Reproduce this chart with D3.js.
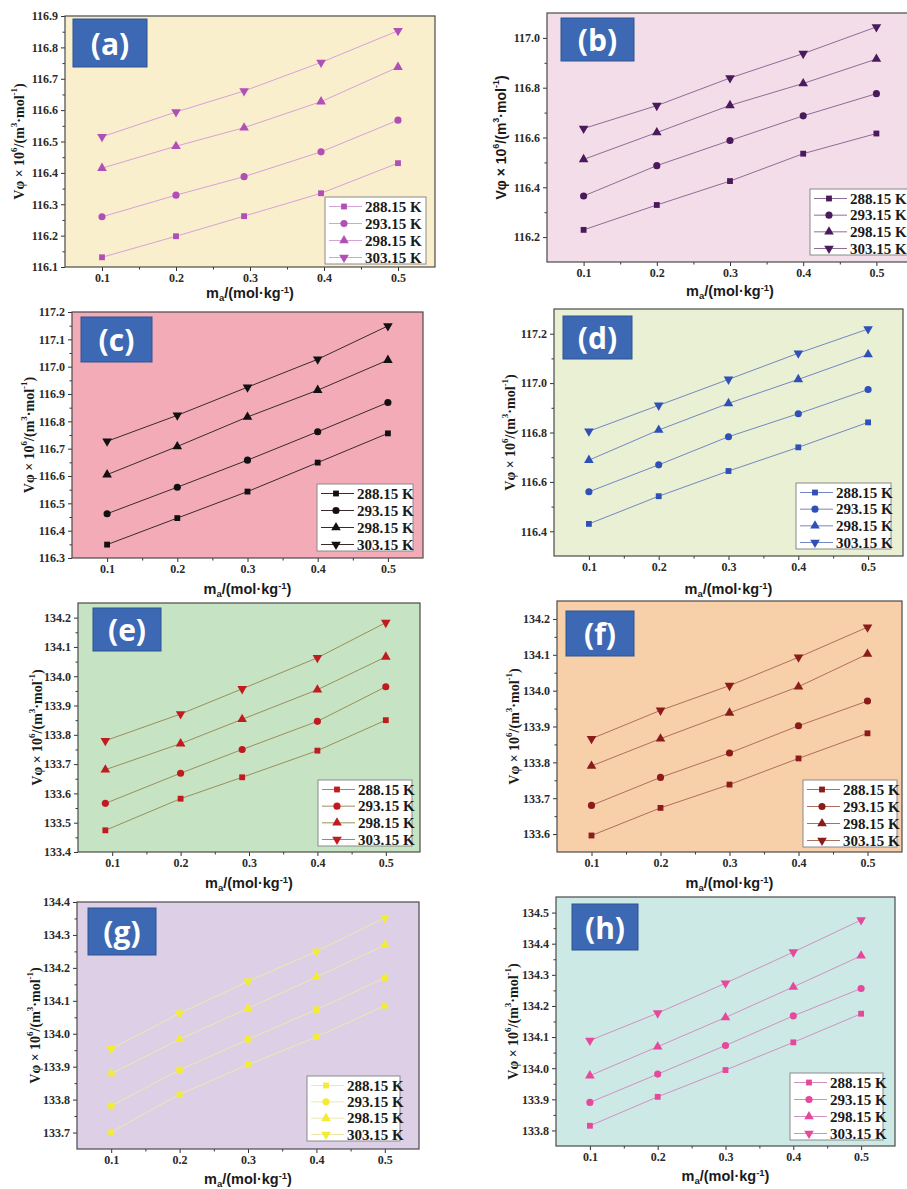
<!DOCTYPE html>
<html><head><meta charset="utf-8">
<script src="https://cdn.jsdelivr.net/npm/d3@7/dist/d3.min.js"></script>
<style>
body{margin:0;background:#fff;}
svg{display:block;}
</style></head>
<body>
<svg id="chart" width="907" height="1189"></svg>
<script>
// ---------- DATA ----------
const seriesNames = ["288.15 K", "293.15 K", "298.15 K", "303.15 K"];
const xTickValues = [0.1, 0.2, 0.3, 0.4, 0.5];

const a_x   = [0.1, 0.2, 0.292, 0.396, 0.5];
const a_288 = [116.131, 116.198, 116.262, 116.335, 116.431];
const a_293 = [116.260, 116.329, 116.388, 116.467, 116.568];
const a_298 = [116.415, 116.485, 116.544, 116.627, 116.737];
const a_303 = [116.515, 116.594, 116.661, 116.752, 116.853];
const a_yTicks = [116.1, 116.2, 116.3, 116.4, 116.5, 116.6, 116.7, 116.8, 116.9];

const b_x   = [0.1, 0.2, 0.3, 0.4, 0.5];
const b_288 = [116.229, 116.329, 116.425, 116.535, 116.616];
const b_293 = [116.365, 116.487, 116.588, 116.687, 116.776];
const b_298 = [116.512, 116.620, 116.729, 116.817, 116.915];
const b_303 = [116.636, 116.728, 116.839, 116.937, 117.044];
const b_yTicks = [116.2, 116.4, 116.6, 116.8, 117.0];

const c_x   = [0.1, 0.2, 0.3, 0.4, 0.5];
const c_288 = [116.349, 116.446, 116.543, 116.649, 116.756];
const c_293 = [116.462, 116.559, 116.658, 116.762, 116.869];
const c_298 = [116.605, 116.708, 116.816, 116.914, 117.024];
const c_303 = [116.727, 116.822, 116.925, 117.027, 117.149];
const c_yTicks = [116.3, 116.4, 116.5, 116.6, 116.7, 116.8, 116.9, 117.0, 117.1, 117.2];

const d_x   = [0.1, 0.2, 0.3, 0.4, 0.5];
const d_288 = [116.430, 116.542, 116.644, 116.740, 116.841];
const d_293 = [116.560, 116.669, 116.783, 116.876, 116.974];
const d_298 = [116.688, 116.810, 116.918, 117.015, 117.116];
const d_303 = [116.805, 116.910, 117.015, 117.121, 117.219];
const d_yTicks = [116.4, 116.6, 116.8, 117.0, 117.2];

const e_x   = [0.09, 0.2, 0.29, 0.4, 0.5];
const e_288 = [133.474, 133.582, 133.655, 133.746, 133.850];
const e_293 = [133.566, 133.669, 133.750, 133.846, 133.964];
const e_298 = [133.681, 133.770, 133.853, 133.954, 134.066];
const e_303 = [133.780, 133.871, 133.957, 134.063, 134.183];
const e_yTicks = [133.4, 133.5, 133.6, 133.7, 133.8, 133.9, 134.0, 134.1, 134.2];

const f_x   = [0.1, 0.2, 0.3, 0.4, 0.5];
const f_288 = [133.596, 133.673, 133.738, 133.811, 133.881];
const f_293 = [133.680, 133.758, 133.826, 133.902, 133.971];
const f_298 = [133.790, 133.866, 133.938, 134.011, 134.102];
const f_303 = [133.866, 133.945, 134.014, 134.093, 134.177];
const f_yTicks = [133.6, 133.7, 133.8, 133.9, 134.0, 134.1, 134.2];

const g_x   = [0.1, 0.2, 0.3, 0.4, 0.5];
const g_288 = [133.701, 133.816, 133.906, 133.990, 134.085];
const g_293 = [133.781, 133.890, 133.983, 134.073, 134.170];
const g_298 = [133.879, 133.983, 134.077, 134.172, 134.269];
const g_303 = [133.954, 134.062, 134.159, 134.250, 134.352];
const g_yTicks = [133.7, 133.8, 133.9, 134.0, 134.1, 134.2, 134.3, 134.4];

const h_x   = [0.1, 0.2, 0.3, 0.4, 0.5];
const h_288 = [133.815, 133.908, 133.994, 134.083, 134.175];
const h_293 = [133.890, 133.981, 134.073, 134.168, 134.256];
const h_298 = [133.976, 134.069, 134.163, 134.261, 134.361];
const h_303 = [134.089, 134.177, 134.273, 134.373, 134.476];
const h_yTicks = [133.8, 133.9, 134.0, 134.1, 134.2, 134.3, 134.4, 134.5];

// ---------- LAYOUT / STYLE ----------
const panels = [
 {lab:"(a)", x:a_x, s:[a_288,a_293,a_298,a_303], yd:[116.1,116.9], yt:a_yTicks,
  f:{l:65,t:16,r:435,b:267}, bg:"#f9efcd", mk:"#b24fb6", ln:"#d7a2d6",
  box:{x:73,y:19,w:74,h:48}, lg:{x:325,y:197,w:101,h:67}, ylx:19, xly:298, ylf:"serif"},
 {lab:"(b)", x:b_x, s:[b_288,b_293,b_298,b_303], yd:[116.1,117.1], yt:b_yTicks,
  f:{l:547,t:13,r:913,b:262}, bg:"#f2dde9", mk:"#4b1a5c", ln:"#8e6d98",
  box:{x:561,y:18,w:73,h:43}, lg:{x:810,y:189,w:110,h:66}, ylx:501, xly:296, ylf:"sans"},
 {lab:"(c)", x:c_x, s:[c_288,c_293,c_298,c_303], yd:[116.3,117.2], yt:c_yTicks,
  f:{l:72,t:312,r:423,b:558}, bg:"#f4abb8", mk:"#111111", ln:"#3a2a2c",
  box:{x:81,y:317,w:71,h:45}, lg:{x:317,y:484,w:96,h:67}, ylx:29, xly:594, ylf:"serif"},
 {lab:"(d)", x:d_x, s:[d_288,d_293,d_298,d_303], yd:[116.3,117.3], yt:d_yTicks,
  f:{l:554,t:309,r:903,b:556}, bg:"#e9f0d3", mk:"#2f50b6", ln:"#7388c4",
  box:{x:563,y:316,w:69,h:43}, lg:{x:796,y:483,w:95,h:66}, ylx:510, xly:594, ylf:"serif"},
 {lab:"(e)", x:e_x, s:[e_288,e_293,e_298,e_303], yd:[133.4,134.25], yt:e_yTicks,
  f:{l:78,t:603,r:420,b:852}, bg:"#c6e3c3", mk:"#c01b20", ln:"#9a8f5c",
  box:{x:93,y:608,w:68,h:43}, lg:{x:318,y:780,w:94,h:66}, ylx:37, xly:888, ylf:"serif"},
 {lab:"(f)", x:f_x, s:[f_288,f_293,f_298,f_303], yd:[133.55,134.25], yt:f_yTicks,
  f:{l:557,t:601,r:902,b:852}, bg:"#f7cfa9", mk:"#8b1c1c", ln:"#b06f5c",
  box:{x:566,y:611,w:68,h:45}, lg:{x:803,y:780,w:94,h:67}, ylx:514, xly:888, ylf:"serif"},
 {lab:"(g)", x:g_x, s:[g_288,g_293,g_298,g_303], yd:[133.65,134.4], yt:g_yTicks,
  f:{l:77,t:902,r:419,b:1149}, bg:"#ddd0e6", mk:"#f3ec35", ln:"#efe7ad",
  box:{x:88,y:908,w:68,h:47}, lg:{x:307,y:1076,w:93,h:65}, ylx:35, xly:1184, ylf:"serif"},
 {lab:"(h)", x:h_x, s:[h_288,h_293,h_298,h_303], yd:[133.75,134.55], yt:h_yTicks,
  f:{l:556,t:897,r:895,b:1146}, bg:"#cde9e6", mk:"#e6489c", ln:"#cf92c1",
  box:{x:572,y:904,w:66,h:46}, lg:{x:790,y:1073,w:93,h:67}, ylx:513, xly:1181, ylf:"serif"}
];

const symbols = [
  {t:d3.symbolSquare, size:34, rot:0},
  {t:d3.symbolCircle, size:40, rot:0},
  {t:d3.symbolTriangle, size:40, rot:0},
  {t:d3.symbolTriangle, size:40, rot:180}
];

const svg = d3.select("#chart");
const SERIF = "'Liberation Serif','Times New Roman',serif";
const SANS = "'Liberation Sans',Arial,sans-serif";

panels.forEach(p => {
  const g = svg.append("g");
  const F = p.f;
  const x = d3.scaleLinear().domain([0.05, 0.55]).range([F.l, F.r]);
  const y = d3.scaleLinear().domain(p.yd).range([F.b, F.t]);

  g.append("rect").attr("x",F.l).attr("y",F.t).attr("width",F.r-F.l).attr("height",F.b-F.t)
    .attr("fill",p.bg);

  // minor ticks
  const ystep = p.yt[1]-p.yt[0];
  const yMinor = p.yt.map(v=>v+ystep/2).filter(v=>v<p.yd[1]);
  const xMinor = [0.15,0.25,0.35,0.45];
  g.append("g").attr("transform",`translate(0,${F.b})`)
    .call(d3.axisBottom(x).tickValues(xMinor).tickSize(2.5).tickFormat(""))
    .call(a=>a.select(".domain").remove()).selectAll("line").attr("stroke","#333");
  g.append("g").attr("transform",`translate(${F.l},0)`)
    .call(d3.axisLeft(y).tickValues(yMinor).tickSize(2.5).tickFormat(""))
    .call(a=>a.select(".domain").remove()).selectAll("line").attr("stroke","#333");

  // major axes
  const xa = g.append("g").attr("transform",`translate(0,${F.b})`)
    .call(d3.axisBottom(x).tickValues(xTickValues).tickSize(4).tickPadding(2.5).tickFormat(d3.format(".1f")));
  xa.select(".domain").remove();
  xa.selectAll("line").attr("stroke","#333");
  xa.selectAll("text").attr("font-family",SERIF).attr("font-weight","bold").attr("font-size",12).attr("fill","#2a2a2a");

  const ya = g.append("g").attr("transform",`translate(${F.l},0)`)
    .call(d3.axisLeft(y).tickValues(p.yt).tickSize(4).tickPadding(3).tickFormat(d3.format(".1f")));
  ya.select(".domain").remove();
  ya.selectAll("line").attr("stroke","#333");
  ya.selectAll("text").attr("font-family",SERIF).attr("font-weight","bold").attr("font-size",12).attr("fill","#2a2a2a");

  g.append("rect").attr("x",F.l).attr("y",F.t).attr("width",F.r-F.l).attr("height",F.b-F.t)
    .attr("fill","none").attr("stroke","#4a4a4a").attr("stroke-width",1.2);

  // series
  const line = d3.line().x(d=>x(d[0])).y(d=>y(d[1]));
  p.s.forEach((vals,i) => {
    const pts = p.x.map((xv,k)=>[xv, vals[k]]);
    g.append("path").attr("d",line(pts)).attr("fill","none").attr("stroke",p.ln).attr("stroke-width",1);
    const sym = symbols[i];
    g.selectAll(null).data(pts).enter().append("path")
      .attr("d", d3.symbol().type(sym.t).size(sym.size))
      .attr("transform", d=>`translate(${x(d[0])},${y(d[1])}) rotate(${sym.rot})`)
      .attr("fill", p.mk);
  });

  // panel label box
  g.append("rect").attr("x",p.box.x).attr("y",p.box.y).attr("width",p.box.w).attr("height",p.box.h)
    .attr("fill","#3c68b4").attr("stroke","#2e5590").attr("stroke-width",1);
  g.append("text").attr("x",p.box.x+p.box.w/2).attr("y",p.box.y+p.box.h/2)
    .attr("text-anchor","middle").attr("dominant-baseline","central")
    .attr("font-family","'Open Sans','Noto Sans',sans-serif").attr("font-weight",700)
    .attr("font-size",30).attr("fill","#ffffff").text(p.lab);

  // legend
  const L = p.lg;
  g.append("rect").attr("x",L.x).attr("y",L.y).attr("width",L.w).attr("height",L.h)
    .attr("fill","#ffffff").attr("stroke","#8a8a8a").attr("stroke-width",1);
  const rowH = (L.h-16)/3;
  seriesNames.forEach((nm,i) => {
    const ry = L.y + 9.5 + i*rowH;
    g.append("line").attr("x1",L.x+4).attr("x2",L.x+37).attr("y1",ry).attr("y2",ry)
      .attr("stroke",p.ln).attr("stroke-width",1);
    const sym = symbols[i];
    g.append("path").attr("d", d3.symbol().type(sym.t).size(sym.size))
      .attr("transform",`translate(${L.x+19},${ry}) rotate(${sym.rot})`).attr("fill",p.mk);
    g.append("text").attr("x",L.x+40).attr("y",ry).attr("dominant-baseline","central")
      .attr("font-family",SERIF).attr("font-weight","bold").attr("font-size",15)
      .attr("fill","#1a1a1a").text(nm);
  });

  // y label
  const cy = (F.t+F.b)/2;
  const yl = g.append("text").attr("transform",`translate(${p.ylx},${cy}) rotate(-90)`)
    .attr("text-anchor","middle").attr("dominant-baseline","central")
    .attr("font-family", p.ylf==="serif"?SERIF:SANS).attr("font-weight","bold")
    .attr("font-size",14).attr("fill","#1a1a1a");
  yl.append("tspan").text("Vφ × 10");
  yl.append("tspan").attr("dy",-5).attr("font-size",9).text("6");
  yl.append("tspan").attr("dy",5).text("/(m");
  yl.append("tspan").attr("dy",-5).attr("font-size",9).text("3");
  yl.append("tspan").attr("dy",5).text("·mol");
  yl.append("tspan").attr("dy",-5).attr("font-size",9).text("-1");
  yl.append("tspan").attr("dy",5).text(")");

  // x label
  const cx = (F.l+Math.min(F.r,913))/2;
  const xl = g.append("text").attr("x",cx).attr("y",p.xly).attr("text-anchor","middle")
    .attr("font-family",SANS).attr("font-weight","bold").attr("font-size",14.5).attr("fill","#1a1a1a");
  xl.append("tspan").text("m");
  xl.append("tspan").attr("dy",3).attr("font-size",9.5).text("a");
  xl.append("tspan").attr("dy",-3).text("/(mol·kg");
  xl.append("tspan").attr("dy",-5).attr("font-size",9.5).text("-1");
  xl.append("tspan").attr("dy",5).text(")");
});
</script>
</body></html>
